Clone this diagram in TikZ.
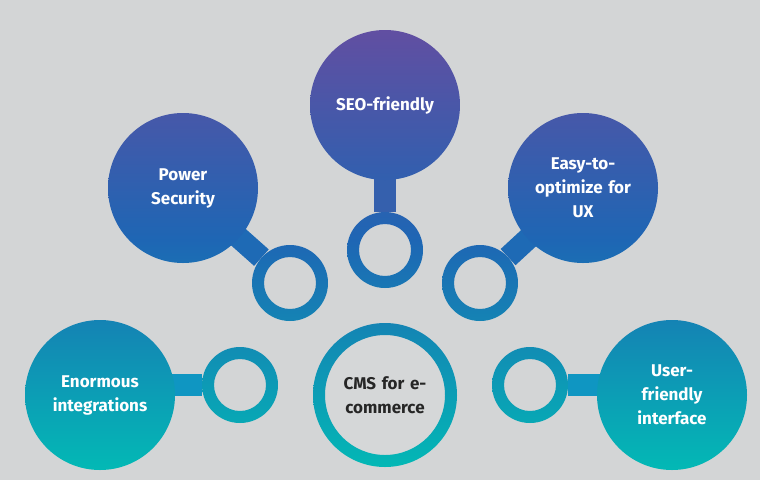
\documentclass[tikz,border=0pt]{standalone}
\usepackage{fontspec}
\setmainfont{Fira Sans}
\definecolor{cTop}{HTML}{6E4A9E}
\definecolor{cMid}{HTML}{1E66B4}
\definecolor{cBot}{HTML}{00C0B5}
\definecolor{bg}{HTML}{D3D5D6}
\definecolor{stemA}{HTML}{3560AD}
\definecolor{stemB}{HTML}{1E6AB5}
\definecolor{stemC}{HTML}{0F96C2}
\newcommand\gshade[1]{\begin{scope}[even odd rule]\clip #1; \shade[top color=cTop,bottom color=cBot,middle color=cMid] (-10,-10) rectangle (770,490);\end{scope}}
\tikzset{
 big/.style={circle,minimum size=150pt,inner sep=0pt,text width=120pt,align=center,text=white,font=\bfseries\fontsize{17}{24}\selectfont},
 ringn/.style={circle,minimum size=76pt,inner sep=0pt},
 stem/.style={line width=22pt},
}
\begin{document}
\begin{tikzpicture}[x=1pt,y=-1pt]
\fill[bg] (0,0) rectangle (760,480);
\useasboundingbox (0,0) rectangle (760,480);
\node[big] (seo) at (385,105) {};
\node[big] (pow) at (183,188) {};
\node[big] (easy) at (583,188) {};
\node[big] (enor) at (100,395) {};
\node[big] (user) at (672,395) {};
\node[ringn] (rseo) at (385,250) {};
\node[ringn] (rpow) at (290,283) {};
\node[ringn] (reasy) at (480,283) {};
\node[ringn] (renor) at (240,385) {};
\node[ringn] (ruser) at (530,385) {};
\node[circle,minimum size=144pt,inner sep=0pt] (cms) at (385,395) {};
% stems
\draw[stem,stemA] (seo.center) -- (rseo);
\draw[stem,stemB] (pow.center) -- (rpow);
\draw[stem,stemB] (easy.center) -- (reasy);
\draw[stem,stemC] (renor) -- (renor -| enor.center);
\draw[stem,stemC] (ruser) -- (ruser -| user.center);
% big circles
\foreach \c in {seo,pow,easy,enor,user}{\gshade{(\c.center) circle[radius=75]}}
% rings
\foreach \c in {rseo,rpow,reasy,renor,ruser}{\gshade{(\c.center) circle[radius=38] (\c.center) circle[radius=26]}}
\fill[bg!95!white] (cms.center) circle[radius=60];
\gshade{(cms.center) circle[radius=72] (cms.center) circle[radius=60]}
% texts
\node[big] at (seo) {SEO-friendly};
\node[big] at (pow) {Power\\Security};
\node[big] at (easy) {Easy-to-\\optimize for\\UX};
\node[big] at (enor) {Enormous\\integrations};
\node[big] at (user) {User-\\friendly\\interface};
\node[big,text=black!85] at (cms) {CMS for e-\\commerce};
\end{tikzpicture}
\end{document}
